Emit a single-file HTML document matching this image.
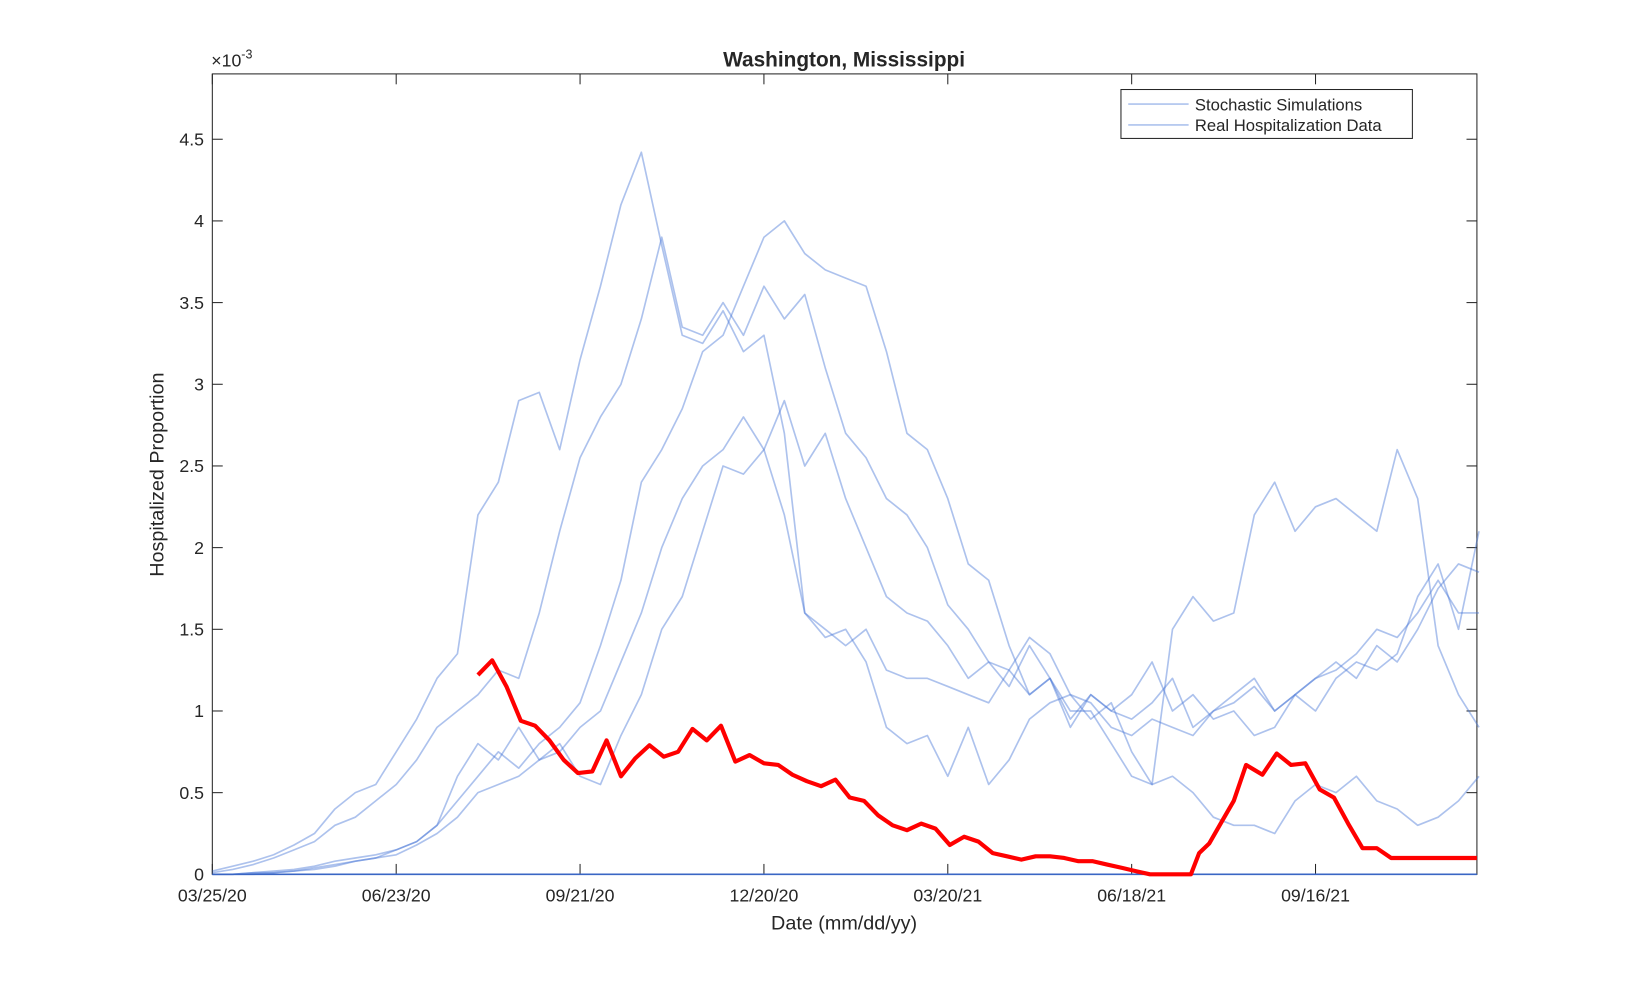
<!DOCTYPE html>
<html><head><meta charset="utf-8"><style>
body{margin:0;background:#fff}
svg text{font-family:"Liberation Sans",Arial,sans-serif;fill:#262626}
</style></head><body>
<svg id="chart" width="1632" height="983" viewBox="0 0 1568 944.4" preserveAspectRatio="none" xmlns="http://www.w3.org/2000/svg" style="position:absolute;left:0;top:0">
<rect width="1568" height="945" fill="#fff"/>
<g id="plot"></g>
<text x="811" y="64" text-anchor="middle" font-size="20" font-weight="bold" fill="#000">Washington, Mississippi</text>
<text x="203" y="64" font-size="17">×10<tspan dy="-8" font-size="12">-3</tspan></text>
<text x="811" y="893" text-anchor="middle" font-size="19">Date (mm/dd/yy)</text>
<text transform="translate(157,456) rotate(-90)" text-anchor="middle" font-size="19">Hospitalized Proportion</text>
<g>
<rect x="1077" y="86" width="280" height="47" fill="#fff" stroke="#262626" stroke-width="1"/>
<line x1="1084" y1="100" x2="1142" y2="100" stroke="#4a78d6" stroke-opacity="0.45" stroke-width="1.6"/>
<text x="1148" y="106" font-size="16">Stochastic Simulations</text>
<line x1="1084" y1="120" x2="1142" y2="120" stroke="#4a78d6" stroke-opacity="0.45" stroke-width="1.6"/>
<text x="1148" y="126" font-size="16">Real Hospitalization Data</text>
</g>
</svg>
<script>
const simDays = [];
for (let i = 0; i <= 62; i++) simDays.push(i * 10);
const sim1 = [0.02,0.05,0.08,0.12,0.18,0.25,0.4,0.5,0.55,0.75,0.95,1.2,1.35,2.2,2.4,2.9,2.95,2.6,3.15,3.6,4.1,4.42,3.85,3.3,3.25,3.45,3.2,3.3,2.7,1.6,1.45,1.5,1.3,0.9,0.8,0.85,0.6,0.9,0.55,0.7,0.95,1.05,1.1,0.95,1.05,0.75,0.55,0.6,0.5,0.35,0.3,0.3,0.25,0.45,0.55,0.5,0.6,0.45,0.4,0.3,0.35,0.45,0.6];
const sim2 = [0.01,0.03,0.06,0.1,0.15,0.2,0.3,0.35,0.45,0.55,0.7,0.9,1.0,1.1,1.25,1.2,1.6,2.1,2.55,2.8,3.0,3.4,3.9,3.35,3.3,3.5,3.3,3.6,3.4,3.55,3.1,2.7,2.55,2.3,2.2,2.0,1.65,1.5,1.3,1.25,1.1,1.2,0.95,1.1,1.0,0.95,1.05,1.2,0.9,1.0,1.05,1.15,1.0,1.1,1.2,1.3,1.2,1.4,1.3,1.5,1.75,1.9,1.85];
const sim3 = [0.0,0.0,0.01,0.02,0.03,0.05,0.08,0.1,0.12,0.15,0.2,0.3,0.45,0.6,0.75,0.65,0.8,0.9,1.05,1.4,1.8,2.4,2.6,2.85,3.2,3.3,3.6,3.9,4.0,3.8,3.7,3.65,3.6,3.2,2.7,2.6,2.3,1.9,1.8,1.4,1.1,1.2,1.0,1.0,0.8,0.6,0.55,1.5,1.7,1.55,1.6,2.2,2.4,2.1,2.25,2.3,2.2,2.1,2.6,2.3,1.4,1.1,0.9];
const sim4 = [0,0,0,0.01,0.02,0.03,0.05,0.08,0.1,0.15,0.2,0.3,0.6,0.8,0.7,0.9,0.7,0.75,0.9,1.0,1.3,1.6,2.0,2.3,2.5,2.6,2.8,2.6,2.2,1.6,1.5,1.4,1.5,1.25,1.2,1.2,1.15,1.1,1.05,1.25,1.45,1.35,1.1,1.05,0.9,0.85,0.95,0.9,0.85,1.0,1.1,1.2,1.0,1.1,1.2,1.25,1.35,1.5,1.45,1.6,1.8,1.6,1.6];
const sim5 = [0,0,0.01,0.01,0.02,0.04,0.06,0.08,0.1,0.12,0.18,0.25,0.35,0.5,0.55,0.6,0.7,0.8,0.6,0.55,0.85,1.1,1.5,1.7,2.1,2.5,2.45,2.6,2.9,2.5,2.7,2.3,2.0,1.7,1.6,1.55,1.4,1.2,1.3,1.15,1.4,1.2,0.9,1.1,1.0,1.1,1.3,1.0,1.1,0.95,1.0,0.85,0.9,1.1,1.0,1.2,1.3,1.25,1.35,1.7,1.9,1.5,2.1];
const realDays = [130,137,144,151,158,165,172,179,186,193,200,207,214,221,228,235,242,249,256,263,270,277,284,291,298,305,312,319,326,333,340,347,354,361,368,375,382,389,396,403,410,417,424,431,438,445,452,459,466,473,479,483,488,494,500,506,514,521,528,535,542,549,556,563,570,577,584,619];
const realVals = [1.22,1.31,1.15,0.94,0.91,0.82,0.70,0.62,0.63,0.82,0.60,0.71,0.79,0.72,0.75,0.89,0.82,0.91,0.69,0.73,0.68,0.67,0.61,0.57,0.54,0.58,0.47,0.45,0.36,0.30,0.27,0.31,0.28,0.18,0.23,0.20,0.13,0.11,0.09,0.11,0.11,0.10,0.08,0.08,0.06,0.04,0.02,0.0,0.0,0.0,0.0,0.13,0.19,0.32,0.45,0.67,0.61,0.74,0.67,0.68,0.52,0.47,0.31,0.16,0.16,0.10,0.10,0.10];
const xTickDays = [0,90,180,270,360,450,540];
const xTickLabels = ["03/25/20","06/23/20","09/21/20","12/20/20","03/20/21","06/18/21","09/16/21"];
const yTicks = [0,0.5,1,1.5,2,2.5,3,3.5,4,4.5];
const yTickLabels = ["0","0.5","1","1.5","2","2.5","3","3.5","4","4.5"];

const L=204,R=1419,T=71,B=840;
const xS = d => L + d*(R-L)/619;
const yS = v => B - v*(B-T)/4.9;
const NS="http://www.w3.org/2000/svg";
const g=document.getElementById('plot');
function mk(tag,attrs,parent){const e=document.createElementNS(NS,tag);for(const k in attrs)e.setAttribute(k,attrs[k]);(parent||g).appendChild(e);return e;}

const box=mk('rect',{x:L,y:T,width:R-L,height:B-T,fill:'none',stroke:'#262626','stroke-width':1});



xTickDays.forEach((d,i)=>{
  const x=xS(d);
  const t1=mk('line',{x1:x,y1:B,x2:x,y2:B-10,stroke:'#262626'});
  
  
  mk('line',{x1:x,y1:T,x2:x,y2:T+10,stroke:'#262626'});
  const tx=mk('text',{x:x,y:B+26,'text-anchor':'middle','font-size':17});
  tx.textContent=xTickLabels[i];
  
  
});
yTicks.forEach((v,i)=>{
  const y=yS(v);
  const t1=mk('line',{x1:L,y1:y,x2:L+10,y2:y,stroke:'#262626'});
  
  
  mk('line',{x1:R,y1:y,x2:R-10,y2:y,stroke:'#262626'});
  const tx=mk('text',{x:L-8,y:y+6,'text-anchor':'end','font-size':17});
  tx.textContent=yTickLabels[i];
  
  
});

const sims=[sim1,sim2,sim3,sim4,sim5];
sims.forEach((s,k)=>{
  const pts=s.map((v,i)=>xS(simDays[i]).toFixed(1)+','+yS(v).toFixed(1)).join(' ');
  const p=mk('polyline',{points:pts,fill:'none',stroke:'#4a78d6','stroke-opacity':0.45,'stroke-width':1.6,'stroke-linejoin':'round'});
  
  
});
const base=mk('line',{x1:L,y1:B,x2:R,y2:B,stroke:'#3a66c4','stroke-width':1.5});



const rp=realVals.map((v,i)=>xS(realDays[i]).toFixed(1)+','+yS(v).toFixed(1)).join(' ');
const red=mk('polyline',{points:rp,fill:'none',stroke:'#ff0000','stroke-width':4,'stroke-linejoin':'round'});


</script>
</body></html>
